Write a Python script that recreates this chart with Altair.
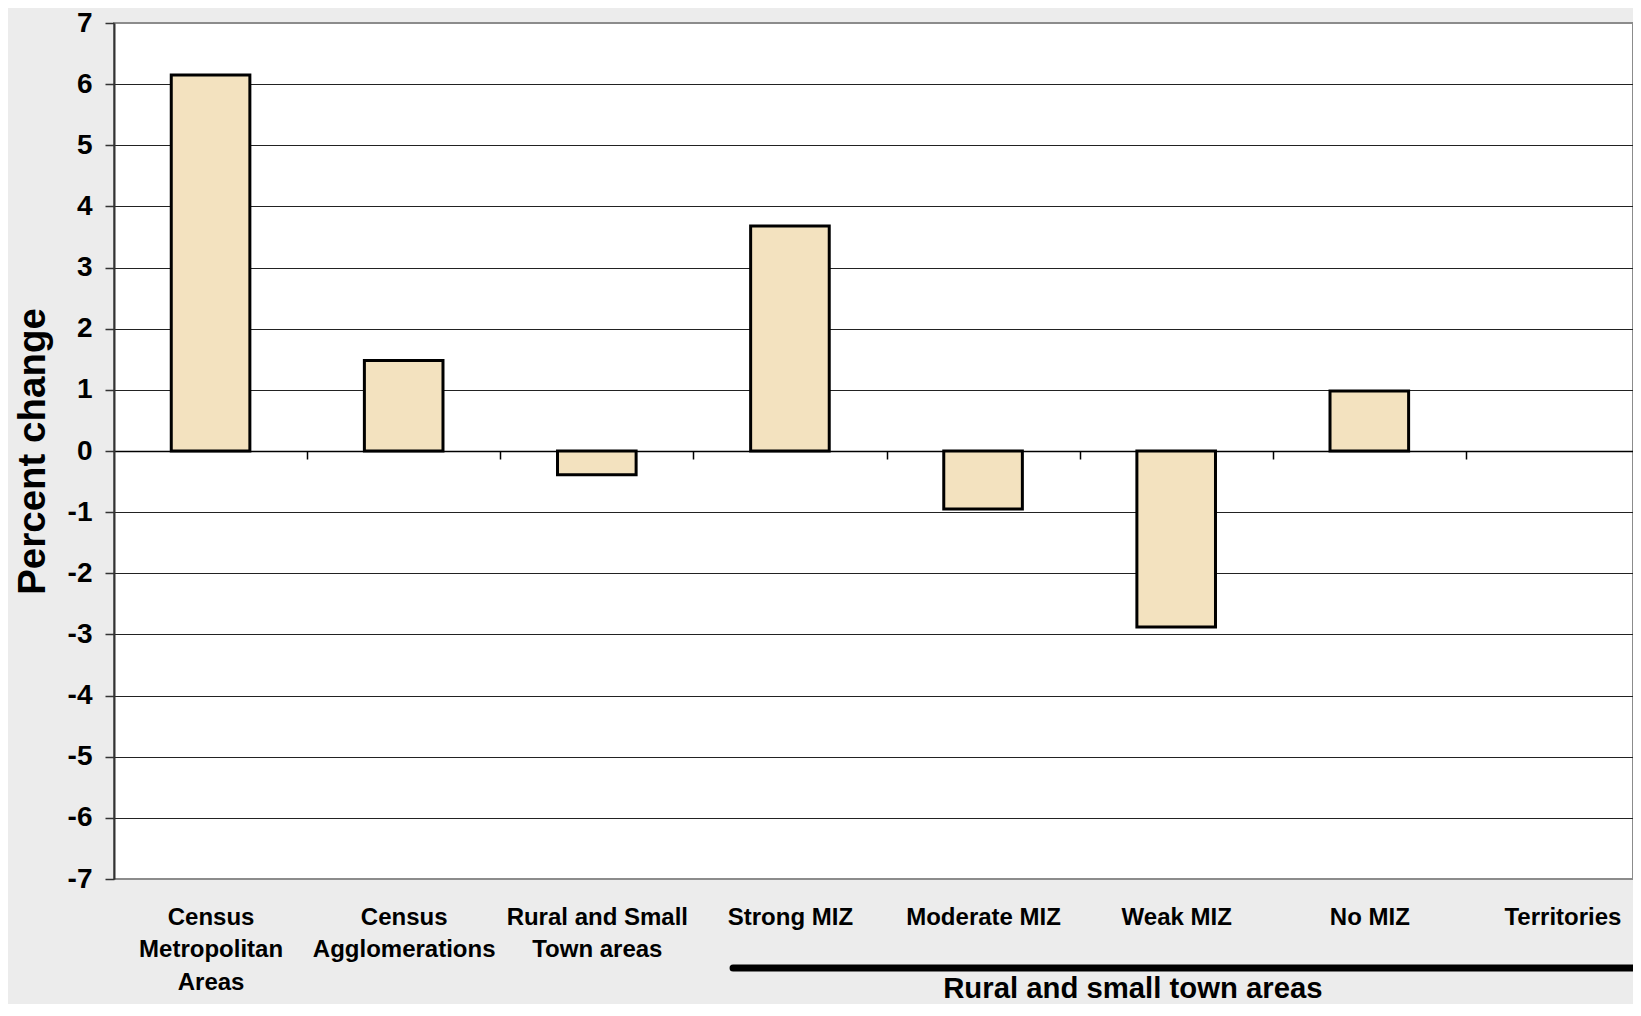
import altair as alt
import pandas as pd

# ---- data ----
categories = [
    "Census|Metropolitan|Areas",
    "Census|Agglomerations",
    "Rural and Small|Town areas",
    "Strong MIZ",
    "Moderate MIZ",
    "Weak MIZ",
    "No MIZ",
    "Territories",
]
values = [6.15, 1.48, -0.39, 3.68, -0.95, -2.88, 0.98, None]
y_ticks = list(range(-7, 8))
group_label = "Rural and small town areas"
group_start = "Strong MIZ"
group_label_at = "Weak MIZ"

FONT = "Liberation Sans"

df = pd.DataFrame({"cat": categories, "value": values}).dropna()

STEP = 1545 / len(categories)
x_scale = alt.Scale(domain=categories, range=[0, 1545],
                    paddingInner=0.593, paddingOuter=0.2965)

x_axis = alt.Axis(
    title=None, orient="bottom", offset=-428,
    domainColor="#000000", domainWidth=1.6,
    ticks=True, tickColor="#000000", tickWidth=1.5, tickSize=8,
    tickOffset=STEP / 2, labelOffset=-STEP / 2, grid=False,
    labelExpr="split(datum.label, '|')",
    labelFont=FONT, labelFontSize=24, labelFontWeight="bold",
    labelColor="#000000", labelPadding=446, labelLineHeight=32.5,
    labelAngle=0, labelOverlap=False, labelBaseline="top", labelLimit=400,
)

bars = alt.Chart(df).mark_bar(
    fill="#f3e2bf", stroke="#000000", strokeWidth=3
).encode(
    x=alt.X("cat:N", scale=x_scale, sort=None, axis=x_axis),
    y=alt.Y(
        "value:Q",
        scale=alt.Scale(domain=[-7, 7], nice=False),
        axis=alt.Axis(
            values=y_ticks, labelExpr="'' + datum.value",
            title="Percent change", titleFont=FONT, titleFontSize=38.5,
            titleFontWeight="bold", titleColor="#000000", titlePadding=15,
            labelFont=FONT, labelFontSize=28, labelFontWeight="bold",
            labelColor="#000000", labelPadding=13,
            tickSize=9, tickColor="#333333", tickWidth=1.5,
            domainColor="#333333", domainWidth=2,
            grid=True,
            gridColor={"condition": {"test": "abs(datum.value) === 7", "value": "#8c8c8c"},
                       "value": "#222222"},
            gridWidth=1.2,
        ),
    ),
)

bracket_df = pd.DataFrame({"cat": [group_start]})
bracket = alt.Chart(bracket_df).mark_rule(
    stroke="#000000", strokeWidth=7, strokeCap="round", xOffset=-17.6
).encode(
    x=alt.X("cat:N", scale=x_scale, sort=None, axis=x_axis, bandPosition=0),
    x2=alt.value(1700),
    y=alt.value(945),
)

label_df = pd.DataFrame({"cat": [group_label_at], "text": [group_label]})
label = alt.Chart(label_df).mark_text(
    font=FONT, fontSize=29.3, fontWeight="bold", color="#000000",
    baseline="middle", align="center", dx=-4
).encode(
    x=alt.X("cat:N", scale=x_scale, sort=None, axis=x_axis, bandPosition=0),
    y=alt.value(966),
    text="text:N",
)

chart = alt.layer(bars, bracket, label).properties(
    width=1519,
    height=856,
    autosize=alt.AutoSizeParams(type="none"),
    padding={"left": 106, "top": 15, "right": 0, "bottom": 125},
    background="#ececec",
).configure_view(
    fill="white", stroke="#8c8c8c", strokeWidth=2
)

chart.save("out.html", embed_options={"renderer": "svg", "actions": False})
